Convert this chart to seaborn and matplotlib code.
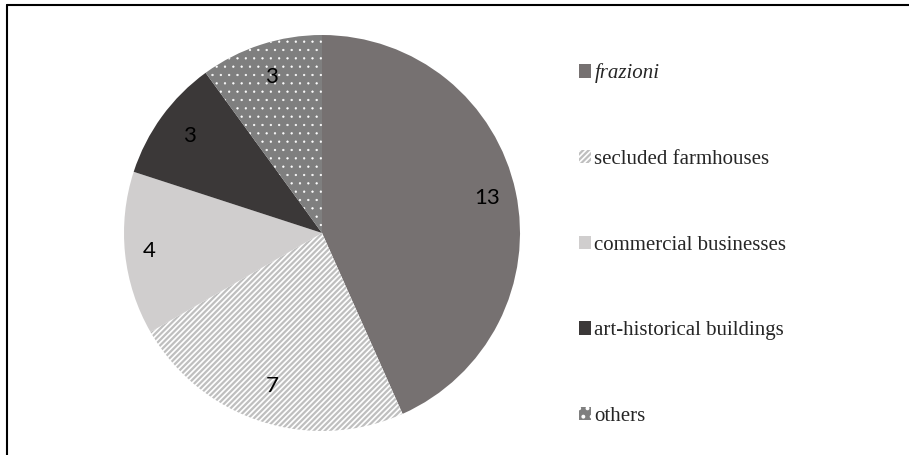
import matplotlib.pyplot as plt
import seaborn as sns
from matplotlib.lines import Line2D
from matplotlib.patches import Patch

categories = ['frazioni', 'secluded farmhouses', 'commercial businesses',
              'art-historical buildings', 'others']
counts = [13, 7, 4, 3, 3]

sns.set_theme(style='white')
plt.rcParams['font.family'] = ['Liberation Serif', 'DejaVu Serif']

faces = ['#767171', 'white', '#d0cece', '#3b3838', '#7f7f7f']
hatches = [None, '//////', None, None, '..']
hatch_cols = ['#767171', '#bfbfbf', '#d0cece', '#3b3838', 'white']
hatch_lw = [1.6, 1.6, 1.6, 1.6, 0.4]
label_dist = [0.85, 0.81, 0.88, 0.83, 0.83]
plt.rcParams['hatch.linewidth'] = 1.6

fig = plt.figure(figsize=(9.09, 4.55), dpi=100)
ax = fig.add_axes([124 / 909, 24 / 455, 396 / 909, 396 / 455])

wedges, texts, autotexts = ax.pie(
    counts, startangle=90, counterclock=False, colors=faces,
    autopct=lambda p: f'{round(p * sum(counts) / 100):d}', pctdistance=1.0,
    wedgeprops=dict(linewidth=0), textprops=dict(family='Lato', fontsize=16, color='black'))
for w, h, c, lw in zip(wedges, hatches, hatch_cols, hatch_lw):
    w.set_edgecolor(c)
    if h:
        w.set_hatch(h)
        if hasattr(w, 'set_hatch_linewidth'):
            w.set_hatch_linewidth(lw)
# per-slice label distance (Excel "best fit" style)
for t, d in zip(autotexts, label_dist):
    x, y = t.get_position()
    t.set_position((x * d, y * d))
ax.set_xlim(-1, 1)
ax.set_ylim(-1, 1)
ax.set_aspect('equal')

handles = []
for f, h, c in zip(faces, hatches, hatch_cols):
    handles.append(Patch(facecolor=f, edgecolor=c, hatch=h, linewidth=0))
leg = fig.legend(handles, categories, loc='upper left', bbox_to_anchor=(0.616, 0.902),
                 frameon=False, fontsize=15, handlelength=0.6, handleheight=0.6,
                 handletextpad=0.15, labelspacing=3.2)
leg.get_texts()[0].set_fontstyle('italic')

# frame lines (top and left only)
fig.add_artist(Line2D([6.5 / 909, 1], [1 - 4.5 / 455] * 2, color='black', lw=1.5))
fig.add_artist(Line2D([6.5 / 909] * 2, [0, 1 - 4.5 / 455], color='black', lw=1.5))

fig.savefig('out.png', dpi=100)
